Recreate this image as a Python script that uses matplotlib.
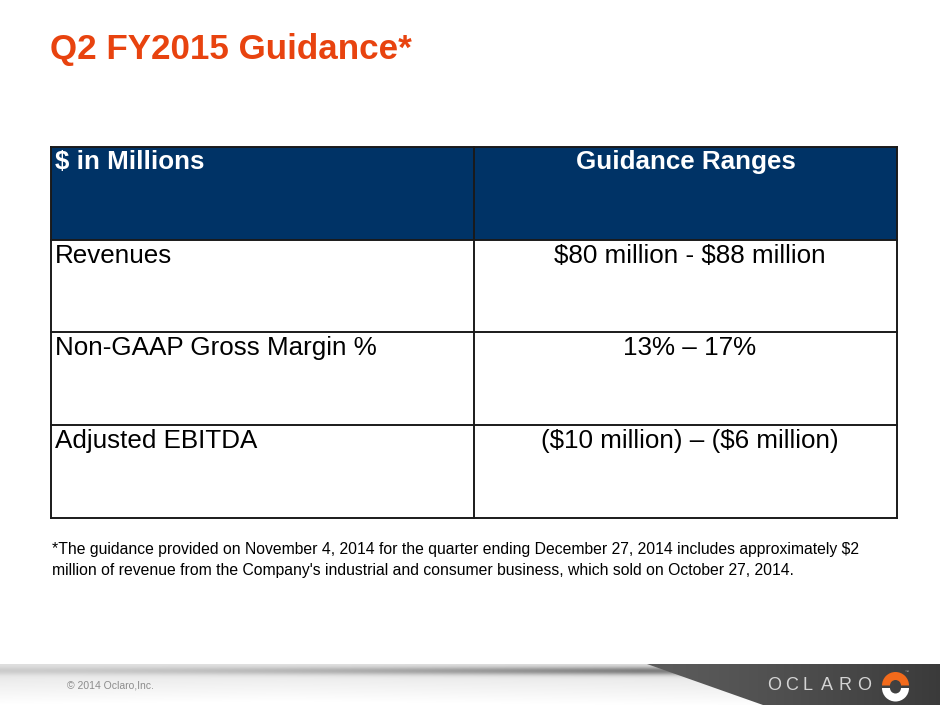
import matplotlib
matplotlib.use('Agg')
import matplotlib.pyplot as plt
from matplotlib.patches import Rectangle, Polygon, Wedge
import numpy as np

plt.rcParams['text.parse_math'] = False

W, H = 940, 705

title = 'Q2 FY2015 Guidance*'
header = ['$ in Millions', 'Guidance Ranges']
row_labels = ['Revenues', 'Non-GAAP Gross Margin %', 'Adjusted EBITDA']
row_values = ['$80 million - $88 million', '13% \u2013 17%',
              '($10 million) \u2013 ($6 million)']
footnote = ("*The guidance provided on November 4, 2014 for the quarter ending December 27, 2014 includes approximately $2\n"
            "million of revenue from the Company's industrial and consumer business, which sold on October 27, 2014.")
copyright_txt = '\u00a9 2014 Oclaro,Inc.'
logo_letters = list('OCLARO')

ORANGE = '#E8430F'
NAVY = '#003366'
FONT = 'Liberation Sans'

fig = plt.figure(figsize=(W / 100, H / 100), dpi=100)
ax = fig.add_axes([0, 0, 1, 1])
ax.set_xlim(0, W)
ax.set_ylim(H, 0)
ax.axis('off')

# title
ax.text(50, 49, title, color=ORANGE, fontsize=25.2, fontweight='bold',
        family=FONT, va='center', ha='left')

# table geometry
x0, xm, x1 = 51, 474, 897
y0 = 147
rh = 92.7
edges = y0 + rh * np.arange(len(row_labels) + 2)

ax.add_patch(Rectangle((x0, edges[0]), x1 - x0, rh, facecolor=NAVY,
                       edgecolor='none', zorder=1))
for i in range(len(row_labels) + 2):
    ax.plot([x0, x1], [edges[i], edges[i]], color='#1a1a1a', lw=1.4, zorder=3)
for xx in (x0, xm, x1):
    ax.plot([xx, xx], [edges[0], edges[-1]], color='#1a1a1a', lw=1.4, zorder=3)

fs = 18.7
ax.text(x0 + 4, edges[0] + 15, header[0], color='white', fontsize=fs,
        fontweight='bold', family=FONT, va='center', ha='left', zorder=4)
ax.text((xm + x1) / 2, edges[0] + 15, header[1], color='white', fontsize=fs,
        fontweight='bold', family=FONT, va='center', ha='center', zorder=4)
for i, (lab, val) in enumerate(zip(row_labels, row_values)):
    yy = edges[i + 1] + 16
    ax.text(x0 + 4, yy, lab, color='black', fontsize=fs, family=FONT,
            va='center', ha='left', zorder=4)
    ax.text((xm + x1) / 2 + 4, yy, val, color='black', fontsize=fs, family=FONT,
            va='center', ha='center', zorder=4)

# footnote
ax.text(52, 560, footnote, color='black', fontsize=11.3, family=FONT,
        va='center', ha='left', linespacing=1.45)

# footer band
band_top = 664
ny, nx = H - band_top, W
yy = np.linspace(0, 1, ny)[:, None]
xx = np.linspace(0, 1, nx)[None, :]
streak = np.exp(-((yy - 0.16) / 0.1) ** 2) * (0.25 + 0.75 * np.clip(xx / 0.68, 0, 1) ** 1.5)
base = 0.86 + 0.12 * yy + 0.03 * (1 - np.abs(xx - 0.3))
shade = np.clip(base - 0.40 * streak, 0, 1)
band = np.repeat(shade[:, :, None], 3, axis=2)
ax.imshow(band, extent=[0, W, H, band_top], aspect='auto', zorder=0,
          interpolation='bilinear')

dark = np.zeros((10, 100, 3))
dark[:, :, :] = (0.36 - 0.13 * np.linspace(0, 1, 100) ** 1.3)[None, :, None]
im = ax.imshow(dark, extent=[640, W, H, band_top], aspect='auto', zorder=1,
               interpolation='bilinear')
clip = Polygon([[647, band_top], [W, band_top], [W, H], [763, H]],
               closed=True, transform=ax.transData)
im.set_clip_path(clip)

ax.text(67, 686, copyright_txt, color='#8c8c8c', fontsize=7.5, family=FONT,
        va='center', ha='left')

# logo
lx = 767
for k, ch in enumerate(logo_letters):
    ax.text(lx + k * 18.0, 686, ch, color='#d4d4d4', fontsize=13, family=FONT,
            va='center', ha='left', zorder=3)
cx, cy = 895.5, 686.5
ax.add_patch(Wedge((cx, cy - 1), 13.5, 180, 360, width=8, facecolor='#F26A1B',
                   edgecolor='none', zorder=3))
ax.add_patch(Wedge((cx, cy + 1.5), 13.5, 0, 180, width=8, facecolor='white',
                   edgecolor='none', zorder=3))
ax.text(905, 672, '\u2122', color='#bbbbbb', fontsize=3, family=FONT,
        va='center', ha='left', zorder=3)

fig.savefig('out.png', dpi=100)
